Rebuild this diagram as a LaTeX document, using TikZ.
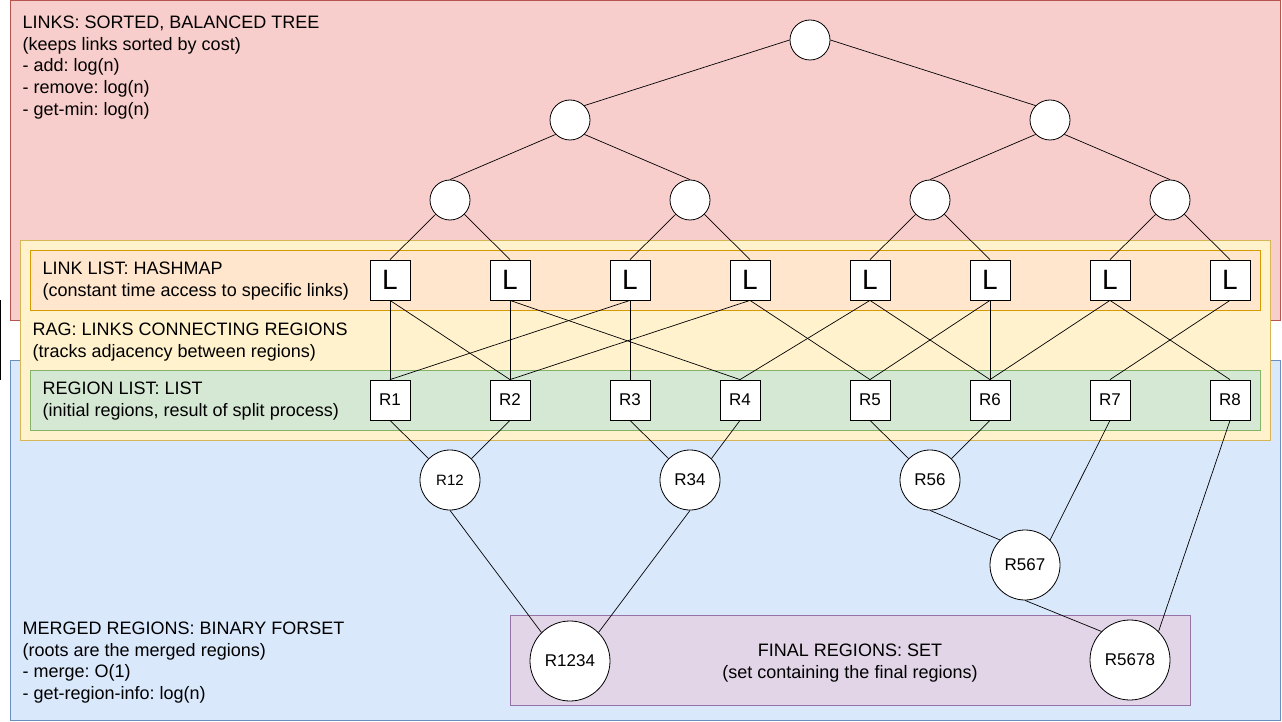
\documentclass[tikz,border=0pt]{standalone}
\usepackage{fontspec}
\setmainfont{Liberation Sans}
\frenchspacing
\definecolor{redF}{HTML}{F8CECC}\definecolor{redS}{HTML}{B85450}
\definecolor{bluF}{HTML}{DAE8FC}\definecolor{bluS}{HTML}{6C8EBF}
\definecolor{yelF}{HTML}{FFF2CC}\definecolor{yelS}{HTML}{D6B656}
\definecolor{oraF}{HTML}{FFE6CC}\definecolor{oraS}{HTML}{D79B00}
\definecolor{greF}{HTML}{D5E8D4}\definecolor{greS}{HTML}{82B366}
\definecolor{purF}{HTML}{E1D5E7}\definecolor{purS}{HTML}{9673A6}
\begin{document}
\begin{tikzpicture}[x=1pt,y=-1pt,
  area/.style={line width=0.8pt},
  tc/.style={circle,draw,fill=white,minimum size=40pt,inner sep=0pt,line width=0.8pt},
  lb/.style={rectangle,draw,fill=white,minimum size=40pt,inner sep=0pt,line width=0.8pt,font=\fontsize{28}{28}\selectfont},
  rb/.style={lb,font=\fontsize{17}{17}\selectfont},
  mc/.style={circle,draw,fill=white,minimum size=60pt,inner sep=0pt,line width=0.8pt,font=\fontsize{17}{17}\selectfont},
  txt/.style={anchor=base west,inner sep=0pt,font=\fontsize{18}{21.6}\selectfont},
  txc/.style={anchor=base,inner sep=0pt,font=\fontsize{18}{21.6}\selectfont},
  con/.style={line width=0.7pt}
]
\useasboundingbox (0,0) rectangle (1282,722);
% areas
\draw[area,draw=redS,fill=redF] (10,0.5) rectangle (1280,320);
\draw[area,draw=bluS,fill=bluF] (10,360) rectangle (1280,720);
\draw[area,draw=yelS,fill=yelF] (20,240) rectangle (1270,440);
\draw[area,draw=oraS,fill=oraF] (30,250) rectangle (1260,310);
\draw[area,draw=greS,fill=greF] (30,370) rectangle (1260,430);
\draw[area,draw=purS,fill=purF] (510,615) rectangle (1190,705);
\draw[line width=1pt] (0.5,300) -- (0.5,380);
% texts
\node[txt] (a1) at (22.5,28.5) {LINKS: SORTED, BALANCED TREE};
\node[txt] (a2) at (22.5,50.2) {(keeps links sorted by cost)};
\node[txt] (a3) at (22.5,71.9) {- add: log(n)};
\node[txt] (a4) at (22.5,93.6) {- remove: log(n)};
\node[txt] (a5) at (22.5,115.3) {- get-min: log(n)};
\node[txt] (b1) at (42.5,274.5) {LINK LIST: HASHMAP};
\node[txt] (b2) at (42.5,296.5) {(constant time access to specific links)};
\node[txt] (c1) at (32.5,335.5) {RAG: LINKS CONNECTING REGIONS};
\node[txt] (c2) at (32.5,357.5) {(tracks adjacency between regions)};
\node[txt] (d1) at (42.5,394.5) {REGION LIST: LIST};
\node[txt] (d2) at (42.5,416.5) {(initial regions, result of split process)};
\node[txt] (e1) at (22.5,634.5) {MERGED REGIONS: BINARY FORSET};
\node[txt] (e2) at (22.5,656.2) {(roots are the merged regions)};
\node[txt] (e3) at (22.5,677.9) {- merge: O(1)};
\node[txt] (e4) at (22.5,699.6) {- get-region-info: log(n)};
\node[txc] (f1) at (850,656.5) {FINAL REGIONS: SET};
\node[txc] (f2) at (850,678) {(set containing the final regions)};
% tree
\node[tc] (n0) at (810,40) {};
\node[tc] (n1) at (570,120) {};
\node[tc] (n2) at (1050,120) {};
\node[tc] (n3) at (450,200) {};
\node[tc] (n4) at (690,200) {};
\node[tc] (n5) at (930,200) {};
\node[tc] (n6) at (1170,200) {};
\foreach \x [count=\i] in {390,510,630,750,870,990,1110,1230}
  \node[lb] (L\i) at (\x,280) {L};
\foreach \x [count=\i] in {390,510,630,740,870,990,1110,1230}
  \node[rb] (R\i) at (\x,400) {R\i};
\node[mc,font=\fontsize{15}{15}\selectfont] (m12) at (450,480) {R12};
\node[mc] (m34) at (690,480) {R34};
\node[mc] (m56) at (930,480) {R56};
\node[mc,minimum size=70pt] (m567) at (1025,565) {R567};
\node[mc,minimum size=80pt] (m1234) at (570,661) {R1234};
\node[mc,minimum size=80pt] (m5678) at (1130,660) {R5678};
% connectors
\draw[con] (n0.west) -- (n1.north east);
\draw[con] (n0.east) -- (n2.north west);
\draw[con] (n1.south west) -- (n3.north);
\draw[con] (n1.south east) -- (n4.north);
\draw[con] (n2.south west) -- (n5.north);
\draw[con] (n2.south east) -- (n6.north);
\draw[con] (n3.south west) -- (L1.north);
\draw[con] (n3.south east) -- (L2.north);
\draw[con] (n4.south west) -- (L3.north);
\draw[con] (n4.south east) -- (L4.north);
\draw[con] (n5.south west) -- (L5.north);
\draw[con] (n5.south east) -- (L6.north);
\draw[con] (n6.south west) -- (L7.north);
\draw[con] (n6.south east) -- (L8.north);
\foreach \a/\b in {1/1,1/2,2/2,2/4,3/3,3/1,4/2,4/5,5/4,5/6,6/6,6/5,7/6,7/8,8/7}
  \draw[con] (L\a.south) -- (R\b.north);
\draw[con] (R1.south) -- (m12.north west);
\draw[con] (R2.south) -- (m12.north east);
\draw[con] (R3.south) -- (m34.north west);
\draw[con] (R4.south) -- (m34.north east);
\draw[con] (R5.south) -- (m56.north west);
\draw[con] (R6.south) -- (m56.north east);
\draw[con] (m56.south) -- (m567.north west);
\draw[con] (R7.south) -- (m567.north east);
\draw[con] (m12.south) -- (m1234.north west);
\draw[con] (m34.south) -- (m1234.north east);
\draw[con] (m567.south) -- (m5678.north west);
\draw[con] (R8.south) -- (m5678.north east);
\end{tikzpicture}
\end{document}
